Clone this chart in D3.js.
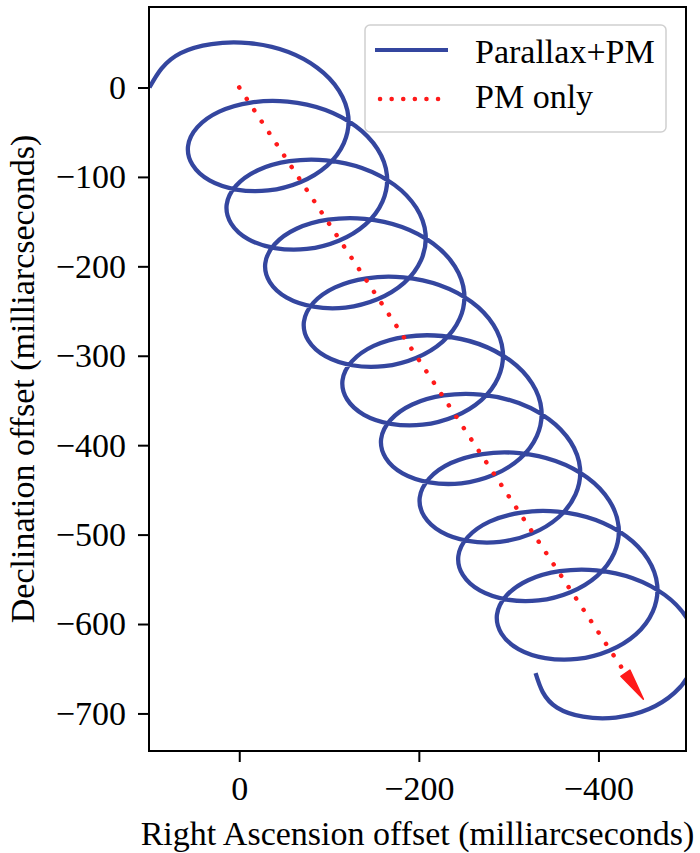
<!DOCTYPE html>
<html>
<head>
<meta charset="utf-8">
<script src="https://cdn.jsdelivr.net/npm/d3@7"></script>
<style>
  body { margin: 0; background: #fff; }
  svg { display: block; font-family: "Liberation Serif", "Times New Roman", serif; }
</style>
</head>
<body>
<svg id="chart"></svg>
<script>
// track of the star (mas), one point every 1/8 year
const raOffset = [
  100, 65.3, -10.8, -86.8, -121.5, -97.6, -32.3, 33.1,
  57, 22.3, -53.8, -129.8, -164.5, -140.6, -75.3, -9.9,
  14, -20.7, -96.8, -172.8, -207.5, -183.6, -118.3, -52.9,
  -29, -63.7, -139.8, -215.8, -250.5, -226.6, -161.3, -95.9,
  -72, -106.7, -182.8, -258.8, -293.5, -269.6, -204.3, -138.9,
  -115, -149.7, -225.8, -301.8, -336.5, -312.6, -247.3, -181.9,
  -158, -192.7, -268.8, -344.8, -379.5, -355.6, -290.3, -224.9,
  -201, -235.7, -311.8, -387.8, -422.5, -398.6, -333.3, -267.9,
  -244, -278.7, -354.8, -430.8, -465.5, -441.6, -376.3, -310.9,
  -287, -321.7, -397.8, -473.8, -508.5, -484.6, -419.3, -353.9,
  -330
];
const decOffset = [
  0, 38.5, 49.6, 22.1, -32.8, -87.6, -115.1, -104.0,
  -65.5, -27.0, -15.9, -43.4, -98.3, -153.1, -180.6, -169.5,
  -131, -92.5, -81.4, -108.9, -163.8, -218.6, -246.1, -235.0,
  -196.5, -158.0, -146.9, -174.4, -229.3, -284.1, -311.6, -300.5,
  -262, -223.5, -212.4, -239.9, -294.8, -349.6, -377.1, -366.0,
  -327.5, -289.0, -277.9, -305.4, -360.3, -415.1, -442.6, -431.5,
  -393, -354.5, -343.4, -370.9, -425.8, -480.6, -508.1, -497.0,
  -458.5, -420.0, -408.9, -436.4, -491.3, -546.1, -573.6, -562.5,
  -524, -485.5, -474.4, -501.9, -556.8, -611.6, -639.1, -628.0,
  -589.5, -551.0, -539.9, -567.4, -622.3, -677.1, -704.6, -693.5,
  -655
];

// proper motion arrow
const pmStart = [0, 0];
const pmEnd = [-430, -655];
const pmTip = [-450, -684];

const xTicks = [0, -200, -400];
const yTicks = [0, -100, -200, -300, -400, -500, -600, -700];
const seriesNames = ["Parallax+PM", "PM only"];

const width = 700;
const height = 853;
const plot = { left: 149, top: 7, right: 686, bottom: 751 };

const blue = "#34469f";
const red = "#ff1a1a";
const fontSize = 34;

let svg = d3.select("#chart")
    .attr("width", width)
    .attr("height", height);

let xScale = d3.scaleLinear()
    .domain([100.5, -497.5])
    .range([plot.left, plot.right]);

let yScale = d3.scaleLinear()
    .domain([90, -742])
    .range([plot.top, plot.bottom]);

svg.append("defs").append("clipPath")
    .attr("id", "clip")
    .append("rect")
    .attr("x", plot.left)
    .attr("y", plot.top)
    .attr("width", plot.right - plot.left)
    .attr("height", plot.bottom - plot.top);

let track = raOffset.map((ra, i) => [ra, decOffset[i]]);

let line = d3.line()
    .x(d => xScale(d[0]))
    .y(d => yScale(d[1]))
    .curve(d3.curveNatural);

let g = svg.append("g").attr("clip-path", "url(#clip)");

g.append("path")
    .datum(track)
    .attr("d", line)
    .attr("fill", "none")
    .attr("stroke", blue)
    .attr("stroke-width", 4.3)
    .attr("stroke-linejoin", "round");

// PM only: dotted line + head
g.append("line")
    .attr("x1", xScale(pmStart[0]))
    .attr("y1", yScale(pmStart[1]))
    .attr("x2", xScale(pmEnd[0]))
    .attr("y2", yScale(pmEnd[1]))
    .attr("stroke", red)
    .attr("stroke-width", 4.5)
    .attr("stroke-linecap", "round")
    .attr("stroke-dasharray", "0.1 13.5");

let bx = xScale(pmEnd[0]), by = yScale(pmEnd[1]);
let tx = xScale(pmTip[0]), ty = yScale(pmTip[1]);
let len = Math.hypot(tx - bx, ty - by);
let nx = -(ty - by) / len, ny = (tx - bx) / len;
let hw = 5.5;
g.append("path")
    .attr("d", `M${bx + nx * hw},${by + ny * hw}L${tx},${ty}L${bx - nx * hw},${by - ny * hw}Z`)
    .attr("fill", red)
    .attr("stroke", red)
    .attr("stroke-width", 1.5)
    .attr("stroke-linejoin", "round");

// axes
let xAxis = d3.axisBottom(xScale)
    .tickValues(xTicks)
    .tickSize(11)
    .tickPadding(14);

let yAxis = d3.axisLeft(yScale)
    .tickValues(yTicks)
    .tickSize(11)
    .tickPadding(12);

let gx = svg.append("g")
    .attr("transform", `translate(0,${plot.bottom})`)
    .call(xAxis);

let gy = svg.append("g")
    .attr("transform", `translate(${plot.left},0)`)
    .call(yAxis);

[gx, gy].forEach(a => {
    a.select(".domain").remove();
    a.selectAll(".tick line").attr("stroke", "#000").attr("stroke-width", 2);
    a.selectAll(".tick text")
        .attr("fill", "#000")
        .style("font-size", fontSize + "px")
        .style("font-family", "'Liberation Serif', 'Times New Roman', serif");
});

// frame
svg.append("rect")
    .attr("x", plot.left)
    .attr("y", plot.top)
    .attr("width", plot.right - plot.left)
    .attr("height", plot.bottom - plot.top)
    .attr("fill", "none")
    .attr("stroke", "#000")
    .attr("stroke-width", 2);

// axis labels
svg.append("text")
    .attr("x", (plot.left + plot.right) / 2)
    .attr("y", 845)
    .attr("text-anchor", "middle")
    .style("font-size", fontSize + "px")
    .text("Right Ascension offset (milliarcseconds)");

svg.append("text")
    .attr("transform", `translate(34,${(plot.top + plot.bottom) / 2}) rotate(-90)`)
    .attr("text-anchor", "middle")
    .style("font-size", fontSize + "px")
    .text("Declination offset (milliarcseconds)");

// legend
let leg = svg.append("g");
leg.append("rect")
    .attr("x", 365)
    .attr("y", 25)
    .attr("width", 301)
    .attr("height", 107)
    .attr("rx", 5)
    .attr("fill", "#fff")
    .attr("fill-opacity", 0.8)
    .attr("stroke", "#d0d0d0")
    .attr("stroke-width", 1.5);

leg.append("line")
    .attr("x1", 375).attr("x2", 448)
    .attr("y1", 50).attr("y2", 50)
    .attr("stroke", blue)
    .attr("stroke-width", 4);

leg.append("line")
    .attr("x1", 380).attr("x2", 440)
    .attr("y1", 99).attr("y2", 99)
    .attr("stroke", red)
    .attr("stroke-width", 4.5)
    .attr("stroke-linecap", "round")
    .attr("stroke-dasharray", "0.1 11.5");

leg.selectAll(".legText")
    .data(seriesNames)
    .enter()
    .append("text")
    .attr("class", "legText")
    .attr("x", 475)
    .attr("y", (d, i) => 63 + i * 44.5)
    .style("font-size", fontSize + "px")
    .text(d => d);
</script>
</body>
</html>
